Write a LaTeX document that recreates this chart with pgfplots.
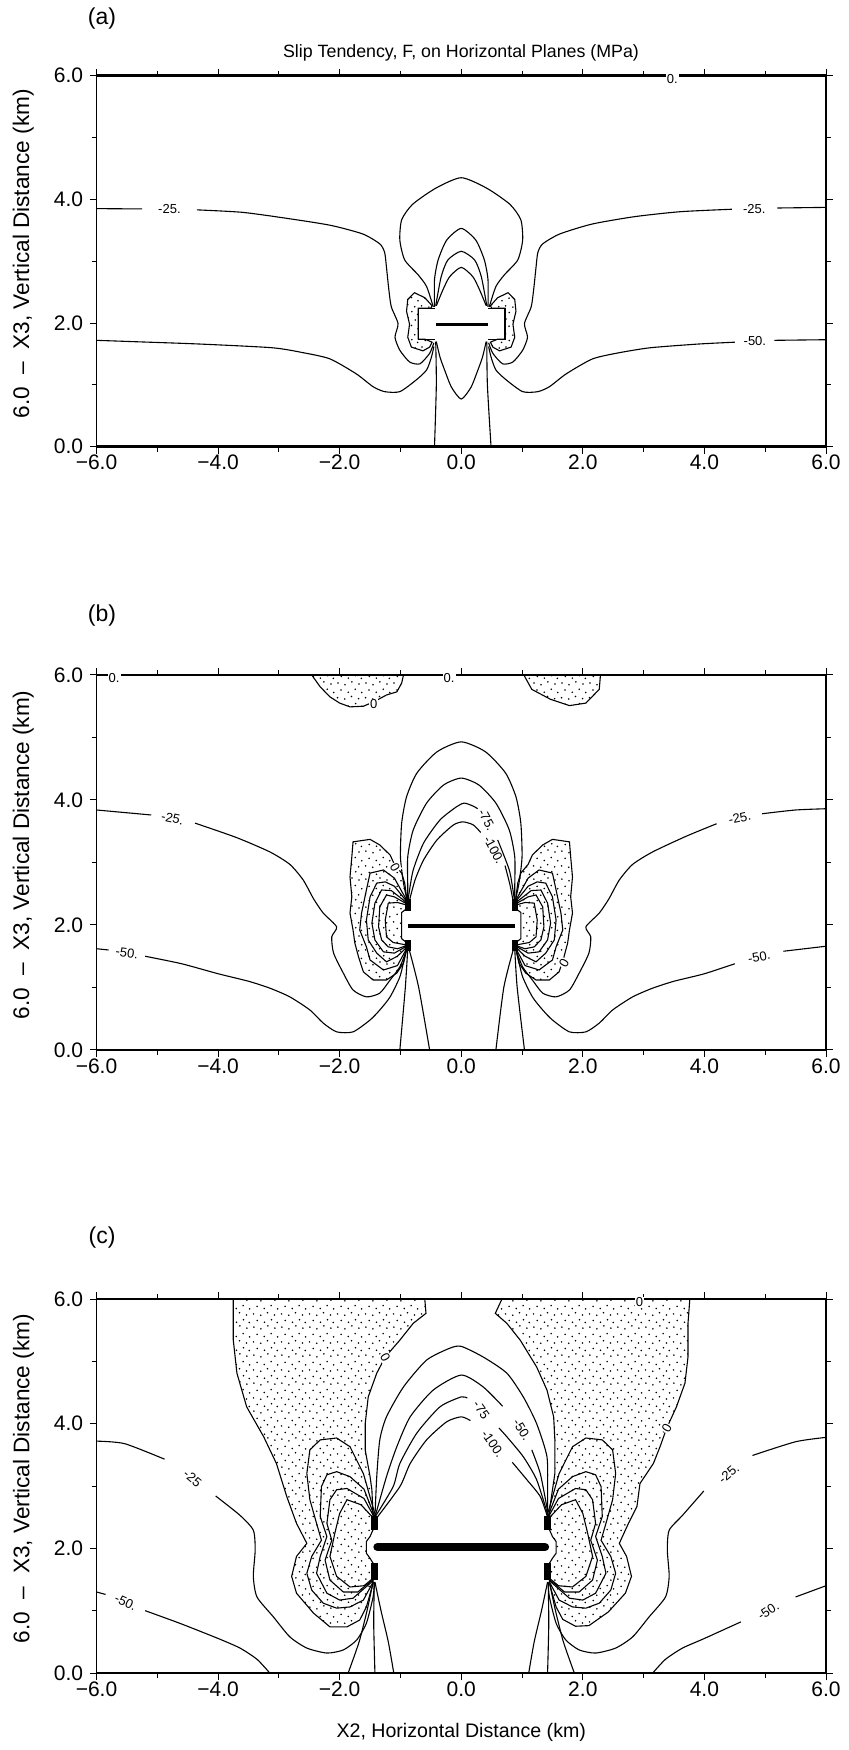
\documentclass[border=0pt]{standalone}
\usepackage{fontspec}
\setmainfont{Liberation Sans}
\usepackage{pgfplots}
\pgfplotsset{compat=1.18}
\usetikzlibrary{patterns}
\pgfdeclarepatternformonly{stipple}{\pgfqpoint{0pt}{0pt}}{\pgfqpoint{14pt}{14pt}}{\pgfqpoint{14pt}{14pt}}{%
  \pgfpathcircle{\pgfqpoint{1.0pt}{1.5pt}}{0.45pt}
  \pgfpathcircle{\pgfqpoint{4.6pt}{0.6pt}}{0.45pt}
  \pgfpathcircle{\pgfqpoint{8.2pt}{2.1pt}}{0.45pt}
  \pgfpathcircle{\pgfqpoint{11.8pt}{1.0pt}}{0.45pt}
  \pgfpathcircle{\pgfqpoint{2.7pt}{4.9pt}}{0.45pt}
  \pgfpathcircle{\pgfqpoint{6.4pt}{4.0pt}}{0.45pt}
  \pgfpathcircle{\pgfqpoint{10.1pt}{5.3pt}}{0.45pt}
  \pgfpathcircle{\pgfqpoint{13.0pt}{3.9pt}}{0.45pt}
  \pgfpathcircle{\pgfqpoint{0.8pt}{8.3pt}}{0.45pt}
  \pgfpathcircle{\pgfqpoint{4.5pt}{7.6pt}}{0.45pt}
  \pgfpathcircle{\pgfqpoint{8.0pt}{8.9pt}}{0.45pt}
  \pgfpathcircle{\pgfqpoint{11.6pt}{7.8pt}}{0.45pt}
  \pgfpathcircle{\pgfqpoint{2.6pt}{12.2pt}}{0.45pt}
  \pgfpathcircle{\pgfqpoint{6.3pt}{11.1pt}}{0.45pt}
  \pgfpathcircle{\pgfqpoint{9.9pt}{12.6pt}}{0.45pt}
  \pgfpathcircle{\pgfqpoint{13.2pt}{10.9pt}}{0.45pt}
  \pgfusepath{fill}}
\tikzset{lbl/.style={font=\fontsize{6.5}{7.5}\selectfont, inner sep=0.5pt}}
\pgfplotsset{
  panel/.style={
    scale only axis, width=364.75pt, anchor=south west,
    xmin=-6, xmax=6, ymin=0, ymax=6,
    xtick={-6,-4,-2,0,2,4,6},
    xticklabels={−6.0,−4.0,−2.0,0.0,2.0,4.0,6.0},
    ytick={0,2,4,6}, yticklabels={0.0,2.0,4.0,6.0},
    minor xtick={-5,-3,-1,1,3,5}, minor ytick={1,3,5},
    tick align=outside, major tick length=3.5pt, minor tick length=2.5pt,
    tick style={black, line width=0.5pt},
    axis line style={line width=0.6pt},
    tick label style={font=\fontsize{10.5}{12}\selectfont},
    xticklabel style={inner sep=0pt, yshift=-0.5pt},
    yticklabel style={inner sep=0pt, xshift=-3pt},
    ylabel={6.0 \ – \ X3, Vertical Distance (km)},
    ylabel style={at={(axis description cs:-0.1002,0.52)}, anchor=center, font=\fontsize{11.3}{13}\selectfont},
    clip mode=individual,
  },
  cl/.style={black, line width=0.55pt},
  cs/.style={black, line width=0.55pt, smooth, tension=0.4},
  stip/.style={draw=black, line width=0.55pt, pattern=stipple},
}
\begin{document}
\begin{tikzpicture}
\path[use as bounding box] (0,0) rectangle (424pt,875pt);

% ================= panel (a) =================
\begin{axis}[panel, height=185.5pt, at={(48.25pt,651.65pt)}]
\addplot[stip] coordinates {(-0.77,2.49)(-0.88,2.38)(-0.90,2.19)(-0.85,1.98)(-0.88,1.77)(-0.82,1.61)(-0.63,1.55)(-0.52,1.61)(-0.48,1.69)(-0.60,1.74)(-0.71,1.74)(-0.71,2.24)(-0.50,2.24)(-0.48,2.28)(-0.60,2.41)} -- cycle;
\addplot[stip] coordinates {(0.77,2.49)(0.88,2.38)(0.90,2.19)(0.85,1.98)(0.88,1.77)(0.82,1.61)(0.63,1.55)(0.52,1.61)(0.48,1.69)(0.60,1.74)(0.72,1.74)(0.72,2.24)(0.50,2.24)(0.48,2.28)(0.60,2.41)} -- cycle;
% -25
\addplot[cs] coordinates {(-6,3.85)(-5.25,3.845)};
\addplot[cs] coordinates {(-4.35,3.83)(-3.6,3.79)(-2.85,3.69)(-2.15,3.58)(-1.62,3.44)(-1.34,3.28)(-1.26,3.14)(-1.23,2.9)(-1.19,2.53)(-1.15,2.26)(-1.04,1.99)(-1.09,1.77)(-1.01,1.56)(-0.85,1.37)(-0.68,1.34)(-0.52,1.51)(-0.45,1.68)};
\addplot[cs] coordinates {(0.45,1.68)(0.52,1.51)(0.68,1.34)(0.85,1.37)(1.01,1.56)(1.09,1.77)(1.04,1.99)(1.15,2.26)(1.19,2.53)(1.23,2.9)(1.26,3.14)(1.34,3.28)(1.62,3.44)(2.15,3.60)(2.85,3.72)(3.6,3.8)(4.45,3.84)};
\addplot[cs] coordinates {(5.2,3.86)(6,3.87)};
% -50
\addplot[cs] coordinates {(-6,1.72)(-5.43,1.70)(-4.3,1.66)(-3.11,1.60)(-2.6,1.52)(-2.16,1.42)(-1.73,1.18)(-1.45,0.97)(-1.26,0.89)(-1.01,0.89)(-0.74,1.08)(-0.57,1.24)(-0.49,1.45)(-0.45,1.62)};
\addplot[cs] coordinates {(0.45,1.62)(0.49,1.45)(0.57,1.24)(0.74,1.08)(1.01,0.89)(1.26,0.89)(1.45,0.97)(1.73,1.18)(2.16,1.42)(2.6,1.52)(3.11,1.60)(3.9,1.66)(4.5,1.69)};
\addplot[cs] coordinates {(5.15,1.72)(6,1.73)};
% central family
\addplot[cs] coordinates {(-0.46,2.26)(-0.57,2.59)(-0.71,2.78)(-0.93,3.02)(-1.01,3.34)(-0.98,3.67)(-0.8,3.92)(-0.42,4.18)(0,4.35)(0.42,4.18)(0.8,3.92)(0.98,3.67)(1.01,3.34)(0.93,3.02)(0.71,2.78)(0.57,2.59)(0.46,2.26)};
\addplot[cs] coordinates {(-0.44,2.26)(-0.44,2.70)(-0.38,3.02)(-0.24,3.34)(0,3.53)(0.24,3.34)(0.38,3.02)(0.44,2.70)(0.44,2.26)};
\addplot[cs] coordinates {(-0.42,2.28)(-0.33,2.75)(-0.22,3.02)(0,3.16)(0.22,3.02)(0.33,2.75)(0.42,2.28)};
\addplot[cs] coordinates {(-0.41,2.28)(-0.30,2.54)(-0.19,2.75)(0,2.90)(0.19,2.75)(0.30,2.54)(0.41,2.28)};
\addplot[cl] coordinates {(-0.44,2.24)(-0.71,2.24)(-0.71,1.74)(-0.44,1.74)};
\addplot[cl] coordinates {(0.44,2.24)(0.72,2.24)(0.72,1.74)(0.44,1.74)};
\addplot[cs] coordinates {(-0.42,1.70)(-0.41,1.0)(-0.44,0)};
\addplot[cs] coordinates {(0.42,1.70)(0.43,1.0)(0.49,0)};
\addplot[cs] coordinates {(-0.41,1.70)(-0.35,1.45)(-0.27,1.23)(-0.16,0.96)(0,0.77)(0.16,0.96)(0.27,1.23)(0.35,1.45)(0.41,1.70)};
\addplot[black, line width=1.5pt] coordinates {(-0.42,1.97)(0.44,1.97)};
\draw[line width=1.3pt] (rel axis cs:0,1) -- (rel axis cs:1,1);
\draw[line width=1.3pt] (rel axis cs:0,0) -- (rel axis cs:1,0);
\node[lbl] at (axis cs:-4.8,3.84) {-25.};
\node[lbl] at (axis cs:4.82,3.85) {-25.};
\node[lbl] at (axis cs:4.83,1.71) {-50.};
\node[lbl, fill=white] at (axis cs:3.47,5.95) {0.};
\end{axis}

% ================= panel (b) =================
\begin{axis}[panel, height=187.5pt, at={(48.25pt,350pt)}]
\addplot[stip] coordinates {(-2.46,6)(-2.32,5.81)(-2.16,5.65)(-2.0,5.55)(-1.83,5.49)(-1.61,5.50)(-1.44,5.57)(-1.23,5.68)(-1.06,5.73)(-0.98,5.87)(-0.95,6)} -- cycle;
\addplot[stip] coordinates {(1.03,6)(1.16,5.77)(1.47,5.61)(1.78,5.51)(2.05,5.55)(2.27,5.77)(2.29,6)} -- cycle;
\addplot[stip] coordinates {(-0.9,2.45)(-0.93,2.67)(-0.98,2.83)(-1.1,2.97)(-1.17,3.12)(-1.34,3.28)(-1.50,3.37)(-1.78,3.33)(-1.80,3.09)(-1.83,2.77)(-1.80,2.45)(-1.83,2.19)(-1.78,1.92)(-1.75,1.71)(-1.69,1.49)(-1.61,1.25)(-1.45,1.12)(-1.23,1.12)(-1.06,1.23)(-0.95,1.39)(-0.9,1.6)(-0.9,1.72)(-0.98,1.78)(-0.98,2.2)(-0.9,2.26)} -- cycle;
\addplot[stip] coordinates {(0.9,2.45)(0.93,2.67)(0.98,2.83)(1.1,2.97)(1.17,3.12)(1.34,3.28)(1.50,3.37)(1.78,3.33)(1.80,3.09)(1.83,2.77)(1.80,2.45)(1.83,2.19)(1.78,1.92)(1.75,1.71)(1.69,1.49)(1.61,1.25)(1.45,1.12)(1.23,1.12)(1.06,1.23)(0.95,1.39)(0.9,1.6)(0.9,1.72)(0.98,1.78)(0.98,2.2)(0.9,2.26)} -- cycle;
% nested in lobes
\addplot[cl] coordinates {(-0.9,2.4)(-1.1,2.75)(-1.28,2.88)(-1.50,2.83)(-1.56,2.56)(-1.64,2.19)(-1.67,1.92)(-1.56,1.65)(-1.50,1.44)(-1.28,1.28)(-1.05,1.35)(-0.9,1.62)};
\addplot[cl] coordinates {(-0.9,2.38)(-1.1,2.62)(-1.25,2.69)(-1.39,2.67)(-1.50,2.45)(-1.56,2.08)(-1.53,1.76)(-1.39,1.55)(-1.23,1.41)(-1.05,1.5)(-0.9,1.64)};
\addplot[cl] coordinates {(-0.9,2.36)(-1.15,2.55)(-1.31,2.56)(-1.42,2.35)(-1.47,2.03)(-1.42,1.76)(-1.28,1.57)(-1.1,1.55)(-0.9,1.66)};
\addplot[cl] coordinates {(-0.9,2.34)(-1.1,2.45)(-1.23,2.48)(-1.34,2.29)(-1.36,1.97)(-1.31,1.76)(-1.20,1.65)(-1.05,1.62)(-0.9,1.67)};
\addplot[cl] coordinates {(-0.9,2.32)(-1.05,2.36)(-1.20,2.35)(-1.25,2.08)(-1.23,1.81)(-1.12,1.72)(-0.9,1.68)};
\addplot[cl] coordinates {(0.9,2.4)(1.1,2.75)(1.28,2.88)(1.50,2.83)(1.56,2.56)(1.64,2.19)(1.67,1.92)(1.56,1.65)(1.50,1.44)(1.28,1.28)(1.05,1.35)(0.9,1.62)};
\addplot[cl] coordinates {(0.9,2.38)(1.1,2.62)(1.25,2.69)(1.39,2.67)(1.50,2.45)(1.56,2.08)(1.53,1.76)(1.39,1.55)(1.23,1.41)(1.05,1.5)(0.9,1.64)};
\addplot[cl] coordinates {(0.9,2.36)(1.15,2.55)(1.31,2.56)(1.42,2.35)(1.47,2.03)(1.42,1.76)(1.28,1.57)(1.1,1.55)(0.9,1.66)};
\addplot[cl] coordinates {(0.9,2.34)(1.1,2.45)(1.23,2.48)(1.34,2.29)(1.36,1.97)(1.31,1.76)(1.20,1.65)(1.05,1.62)(0.9,1.67)};
\addplot[cl] coordinates {(0.9,2.32)(1.05,2.36)(1.20,2.35)(1.25,2.08)(1.23,1.81)(1.12,1.72)(0.9,1.68)};
% arches
\addplot[cs] coordinates {(-0.88,2.35)(-0.95,2.67)(-1.0,3.09)(-0.98,3.63)(-0.90,4.05)(-0.73,4.43)(-0.40,4.77)(0,4.93)(0.40,4.77)(0.73,4.43)(0.90,4.05)(0.98,3.63)(1.0,3.09)(0.95,2.67)(0.88,2.35)};
\addplot[cs] coordinates {(-0.88,2.35)(-0.88,2.6)(-0.88,3.09)(-0.79,3.52)(-0.57,3.95)(-0.29,4.24)(0,4.35)(0.29,4.24)(0.57,3.95)(0.79,3.52)(0.88,3.09)(0.88,2.6)(0.88,2.35)};
\addplot[cs] coordinates {(-0.88,2.35)(-0.86,2.5)(-0.79,2.88)(-0.62,3.31)(-0.35,3.68)(-0.08,3.89)(0.05,3.95)(0.2,3.9)(0.27,3.86)};
\addplot[cs] coordinates {(0.6,3.36)(0.79,2.88)(0.86,2.5)(0.88,2.35)};
\addplot[cs] coordinates {(-0.85,2.4)(-0.76,2.72)(-0.62,3.04)(-0.40,3.36)(-0.13,3.6)(0.03,3.65)(0.2,3.6)(0.32,3.48)};
\addplot[cs] coordinates {(0.72,2.95)(0.8,2.65)(0.85,2.4)};
% -25
\addplot[cs] coordinates {(-6,3.84)(-5.1,3.76)};
\addplot[cs] coordinates {(-4.38,3.63)(-3.7,3.4)(-3.15,3.17)(-2.82,2.97)(-2.6,2.72)(-2.43,2.42)(-2.27,2.19)(-2.05,1.97)(-2.13,1.81)(-2.10,1.55)(-1.94,1.23)(-1.78,0.96)(-1.56,0.85)(-1.34,0.91)(-1.17,1.12)(-1.01,1.33)(-0.9,1.6)};
\addplot[cs] coordinates {(0.9,1.6)(1.01,1.33)(1.17,1.12)(1.34,0.91)(1.56,0.85)(1.78,0.96)(1.94,1.23)(2.10,1.55)(2.13,1.81)(2.05,1.97)(2.27,2.19)(2.43,2.42)(2.6,2.72)(2.82,2.97)(3.15,3.17)(3.7,3.42)(4.2,3.62)};
\addplot[cs] coordinates {(4.95,3.78)(5.5,3.84)(6,3.86)};
% -50
\addplot[cs] coordinates {(-6,1.62)(-5.8,1.6)};
\addplot[cs] coordinates {(-5.2,1.5)(-4.6,1.38)(-4.0,1.22)(-3.5,1.1)(-3.15,0.99)(-2.82,0.85)(-2.49,0.64)(-2.27,0.43)(-2.05,0.29)(-1.78,0.29)(-1.5,0.48)(-1.34,0.64)(-1.17,0.85)(-1.01,1.17)(-0.93,1.49)(-0.9,1.62)};
\addplot[cs] coordinates {(0.9,1.62)(0.93,1.49)(1.01,1.17)(1.17,0.85)(1.34,0.64)(1.5,0.48)(1.78,0.29)(2.05,0.29)(2.27,0.43)(2.49,0.64)(2.82,0.85)(3.15,0.99)(3.5,1.1)(4.0,1.22)(4.5,1.38)};
\addplot[cs] coordinates {(5.3,1.58)(6,1.66)};
% below tips
\addplot[cs] coordinates {(-0.88,1.62)(-0.92,1.0)(-1.01,0)};
\addplot[cs] coordinates {(-0.86,1.62)(-0.7,1.0)(-0.52,0)};
\addplot[cs] coordinates {(0.88,1.62)(0.92,1.0)(1.04,0)};
\addplot[cs] coordinates {(0.86,1.62)(0.7,1.0)(0.57,0)};
% crack and tips
\addplot[black, line width=2pt] coordinates {(-0.88,1.99)(0.88,1.99)};
\addplot[black, line width=3pt] coordinates {(-0.88,2.22)(-0.88,2.42)};
\addplot[black, line width=3pt] coordinates {(-0.88,1.58)(-0.88,1.76)};
\addplot[black, line width=3pt] coordinates {(0.88,2.22)(0.88,2.42)};
\addplot[black, line width=3pt] coordinates {(0.88,1.58)(0.88,1.76)};
\draw[line width=1.3pt] (rel axis cs:0,1) -- (rel axis cs:1,1);
\draw[line width=1.3pt] (rel axis cs:0,0) -- (rel axis cs:1,0);
\node[lbl, fill=white] at (axis cs:-5.71,5.95) {0.};
\node[lbl, fill=white] at (axis cs:-0.2,5.95) {0.};
\node[lbl, fill=white] at (axis cs:-1.44,5.53) {0};
\node[lbl, rotate=-12] at (axis cs:-4.75,3.71) {-25.};
\node[lbl, rotate=12] at (axis cs:4.58,3.71) {-25.};
\node[lbl, rotate=-8] at (axis cs:-5.5,1.55) {-50.};
\node[lbl, rotate=10] at (axis cs:4.9,1.49) {-50.};
\node[lbl, rotate=-62] at (axis cs:0.42,3.68) {-75.};
\node[lbl, rotate=-62] at (axis cs:0.54,3.2) {-100.};
\node[lbl, fill=white, rotate=-60] at (axis cs:-1.09,2.92) {0};
\node[lbl, fill=white, rotate=60] at (axis cs:1.69,1.39) {0};
\end{axis}

% ================= panel (c) =================
\begin{axis}[panel, height=187pt, at={(48.25pt,38.5pt)}, xlabel={X2, Horizontal Distance (km)},
  xlabel style={at={(axis description cs:0.5,0)}, anchor=center, yshift=-29.5pt, font=\fontsize{9.8}{11}\selectfont}]
\addplot[stip] coordinates {(-3.75,6)(-3.75,5.34)(-3.69,4.81)(-3.53,4.27)(-3.25,3.79)(-3.04,3.36)(-2.87,2.83)(-2.71,2.40)(-2.54,2.08)(-2.71,1.87)(-2.79,1.55)(-2.71,1.28)(-2.43,0.96)(-2.16,0.74)(-1.88,0.74)(-1.67,0.85)(-1.56,1.06)(-1.45,1.44)(-1.45,1.76)(-1.5,1.84)(-1.56,1.92)(-1.56,2.11)(-1.5,2.19)(-1.45,2.3)(-1.45,2.51)(-1.47,2.94)(-1.50,3.15)(-1.58,3.58)(-1.58,4.0)(-1.53,4.43)(-1.39,4.81)(-1.25,5.07)(-1.01,5.34)(-0.79,5.61)(-0.58,5.77)(-0.60,6)} -- cycle;
\addplot[stip] coordinates {(0.67,6)(0.56,5.77)(0.75,5.61)(0.97,5.34)(1.24,4.91)(1.41,4.54)(1.52,4.11)(1.54,3.74)(1.54,3.2)(1.46,2.67)(1.45,2.51)(1.45,2.3)(1.5,2.19)(1.56,2.11)(1.56,1.92)(1.5,1.84)(1.45,1.76)(1.45,1.44)(1.56,1.06)(1.67,0.86)(1.88,0.75)(2.1,0.76)(2.42,0.98)(2.7,1.28)(2.8,1.55)(2.72,1.87)(2.6,2.08)(2.75,2.4)(2.89,2.67)(2.94,3.04)(3.16,3.36)(3.27,3.63)(3.38,3.93)(3.54,4.27)(3.68,4.65)(3.73,5.07)(3.73,5.61)(3.76,6)} -- cycle;
% nested in lobes
\addplot[cl] coordinates {(-1.42,2.55)(-1.61,3.20)(-1.83,3.63)(-2.05,3.77)(-2.32,3.74)(-2.49,3.58)(-2.54,3.20)(-2.49,2.78)(-2.38,2.40)(-2.30,2.13)(-2.46,1.87)(-2.54,1.60)(-2.46,1.33)(-2.27,1.12)(-2.05,1.04)(-1.83,1.06)(-1.61,1.17)(-1.45,1.46)};
\addplot[cl] coordinates {(-1.42,2.5)(-1.6,2.95)(-1.83,3.15)(-2.05,3.23)(-2.21,3.18)(-2.30,2.99)(-2.32,2.51)(-2.21,2.19)(-2.32,1.87)(-2.38,1.60)(-2.21,1.28)(-2.0,1.17)(-1.78,1.20)(-1.45,1.48)};
\addplot[cl] coordinates {(-1.42,2.48)(-1.6,2.8)(-1.88,2.96)(-2.05,2.94)(-2.16,2.78)(-2.21,2.40)(-2.13,2.13)(-2.24,1.81)(-2.16,1.49)(-1.94,1.30)(-1.7,1.3)(-1.45,1.5)};
\addplot[cl] coordinates {(-1.42,2.46)(-1.65,2.7)(-1.88,2.78)(-2.0,2.56)(-2.08,2.24)(-2.16,1.87)(-2.05,1.55)(-1.83,1.38)(-1.6,1.4)(-1.45,1.52)};
\addplot[cl] coordinates {(1.42,2.55)(1.61,3.20)(1.83,3.63)(2.05,3.77)(2.32,3.74)(2.49,3.58)(2.54,3.20)(2.49,2.78)(2.38,2.40)(2.30,2.13)(2.46,1.87)(2.54,1.60)(2.46,1.33)(2.27,1.12)(2.05,1.04)(1.83,1.06)(1.61,1.17)(1.45,1.46)};
\addplot[cl] coordinates {(1.42,2.5)(1.6,2.95)(1.83,3.15)(2.05,3.23)(2.21,3.18)(2.30,2.99)(2.32,2.51)(2.21,2.19)(2.32,1.87)(2.38,1.60)(2.21,1.28)(2.0,1.17)(1.78,1.20)(1.45,1.48)};
\addplot[cl] coordinates {(1.42,2.48)(1.6,2.8)(1.88,2.96)(2.05,2.94)(2.16,2.78)(2.21,2.40)(2.13,2.13)(2.24,1.81)(2.16,1.49)(1.94,1.30)(1.7,1.3)(1.45,1.5)};
\addplot[cl] coordinates {(1.42,2.46)(1.65,2.7)(1.88,2.78)(2.0,2.56)(2.08,2.24)(2.16,1.87)(2.05,1.55)(1.83,1.38)(1.6,1.4)(1.45,1.52)};
% arches
\addplot[cs] coordinates {(-1.42,2.5)(-1.39,3.15)(-1.34,3.74)(-1.23,4.11)(-0.95,4.59)(-0.57,5.02)(-0.19,5.21)(0,5.24)(0.36,5.07)(0.75,4.81)(1.02,4.43)(1.24,4.0)(1.41,3.47)(1.42,2.9)(1.42,2.5)};
\addplot[cs] coordinates {(-1.42,2.5)(-1.23,3.15)(-1.06,3.63)(-0.84,4.11)(-0.46,4.54)(0,4.78)(0.36,4.59)(0.68,4.28)};
\addplot[cs] coordinates {(1.16,3.58)(1.3,3.2)(1.42,2.6)};
\addplot[cs] coordinates {(-1.42,2.5)(-1.12,2.99)(-1.01,3.36)(-0.73,3.85)(-0.35,4.27)(0,4.43)(0.1,4.41)};
\addplot[cs] coordinates {(0.62,3.93)(0.75,3.79)(1.02,3.47)(1.24,3.10)(1.42,2.55)};
\addplot[cs] coordinates {(-1.42,2.45)(-1.01,2.99)(-0.84,3.36)(-0.57,3.74)(-0.24,4.03)(0,4.11)(0.15,4.05)};
\addplot[cs] coordinates {(0.84,3.38)(1.08,3.1)(1.3,2.83)(1.42,2.5)};
% -25
\addplot[cs] coordinates {(-6,3.72)(-5.54,3.68)(-4.88,3.43)};
\addplot[cs] coordinates {(-4.04,2.84)(-3.64,2.53)(-3.42,2.29)(-3.39,1.97)(-3.42,1.55)(-3.36,1.22)(-3.09,0.90)(-2.82,0.58)(-2.54,0.40)(-2.21,0.32)(-1.94,0.37)(-1.72,0.53)(-1.56,0.80)(-1.45,1.22)(-1.43,1.45)};
\addplot[cs] coordinates {(1.43,1.45)(1.45,1.22)(1.56,0.80)(1.72,0.53)(1.94,0.37)(2.21,0.32)(2.54,0.40)(2.82,0.58)(3.09,0.90)(3.36,1.22)(3.42,1.55)(3.39,1.97)(3.42,2.29)(3.64,2.53)(3.99,2.92)};
\addplot[cs] coordinates {(4.79,3.49)(5.5,3.71)(6,3.78)};
% -50
\addplot[cs] coordinates {(-6,1.3)(-5.85,1.26)};
\addplot[cs] coordinates {(-5.2,1.0)(-4.61,0.79)(-3.99,0.55)(-3.64,0.4)(-3.36,0.22)(-3.15,0)};
\addplot[cs] coordinates {(3.15,0)(3.36,0.22)(3.64,0.4)(3.99,0.55)(4.6,0.82)};
\addplot[cs] coordinates {(5.5,1.22)(6,1.4)};
% below tips
\addplot[cs] coordinates {(-1.45,1.46)(-1.55,1.0)(-1.68,0.5)(-1.86,0)};
\addplot[cs] coordinates {(-1.43,1.46)(-1.44,0.8)(-1.42,0)};
\addplot[cs] coordinates {(-1.42,1.46)(-1.32,1.0)(-1.2,0.5)(-1.11,0)};
\addplot[cs] coordinates {(1.45,1.46)(1.55,1.0)(1.68,0.5)(1.86,0)};
\addplot[cs] coordinates {(1.43,1.46)(1.44,0.8)(1.42,0)};
\addplot[cs] coordinates {(1.42,1.46)(1.32,1.0)(1.2,0.5)(1.11,0)};
% crack and tips
\addplot[black, line width=4pt, line cap=round] coordinates {(-1.38,2.02)(1.38,2.02)};
\addplot[black, line width=3.5pt] coordinates {(-1.42,2.29)(-1.42,2.52)};
\addplot[black, line width=3.5pt] coordinates {(-1.42,1.5)(-1.42,1.76)};
\addplot[black, line width=3.5pt] coordinates {(1.42,2.29)(1.42,2.52)};
\addplot[black, line width=3.5pt] coordinates {(1.42,1.5)(1.42,1.76)};
\draw[line width=1.3pt] (rel axis cs:0,1) -- (rel axis cs:1,1);
\draw[line width=1.3pt] (rel axis cs:0,0) -- (rel axis cs:1,0);
\node[lbl, fill=white] at (axis cs:2.93,5.95) {0};
\node[lbl, fill=white, rotate=-60] at (axis cs:-1.25,5.07) {0};
\node[lbl, fill=white, rotate=60] at (axis cs:3.38,3.93) {0};
\node[lbl, rotate=-40] at (axis cs:-4.42,3.12) {-25};
\node[lbl, rotate=40] at (axis cs:4.4,3.2) {-25.};
\node[lbl, rotate=-25] at (axis cs:-5.52,1.14) {-50.};
\node[lbl, rotate=33] at (axis cs:5.05,1.0) {-50.};
\node[lbl, rotate=-58] at (axis cs:1.0,3.9) {-50.};
\node[lbl, rotate=-55] at (axis cs:0.33,4.22) {-75};
\node[lbl, rotate=-55] at (axis cs:0.52,3.68) {-100.};
\end{axis}

% titles and panel letters
\node[font=\fontsize{8.9}{10}\selectfont] at (230.5pt,848.5pt) {Slip Tendency, F, on Horizontal Planes (MPa)};
\node[font=\fontsize{11.5}{13}\selectfont] at (51pt,865.6pt) {(a)};
\node[font=\fontsize{11.5}{13}\selectfont] at (51pt,567pt) {(b)};
\node[font=\fontsize{11.5}{13}\selectfont] at (51pt,256.2pt) {(c)};
\end{tikzpicture}
\end{document}
